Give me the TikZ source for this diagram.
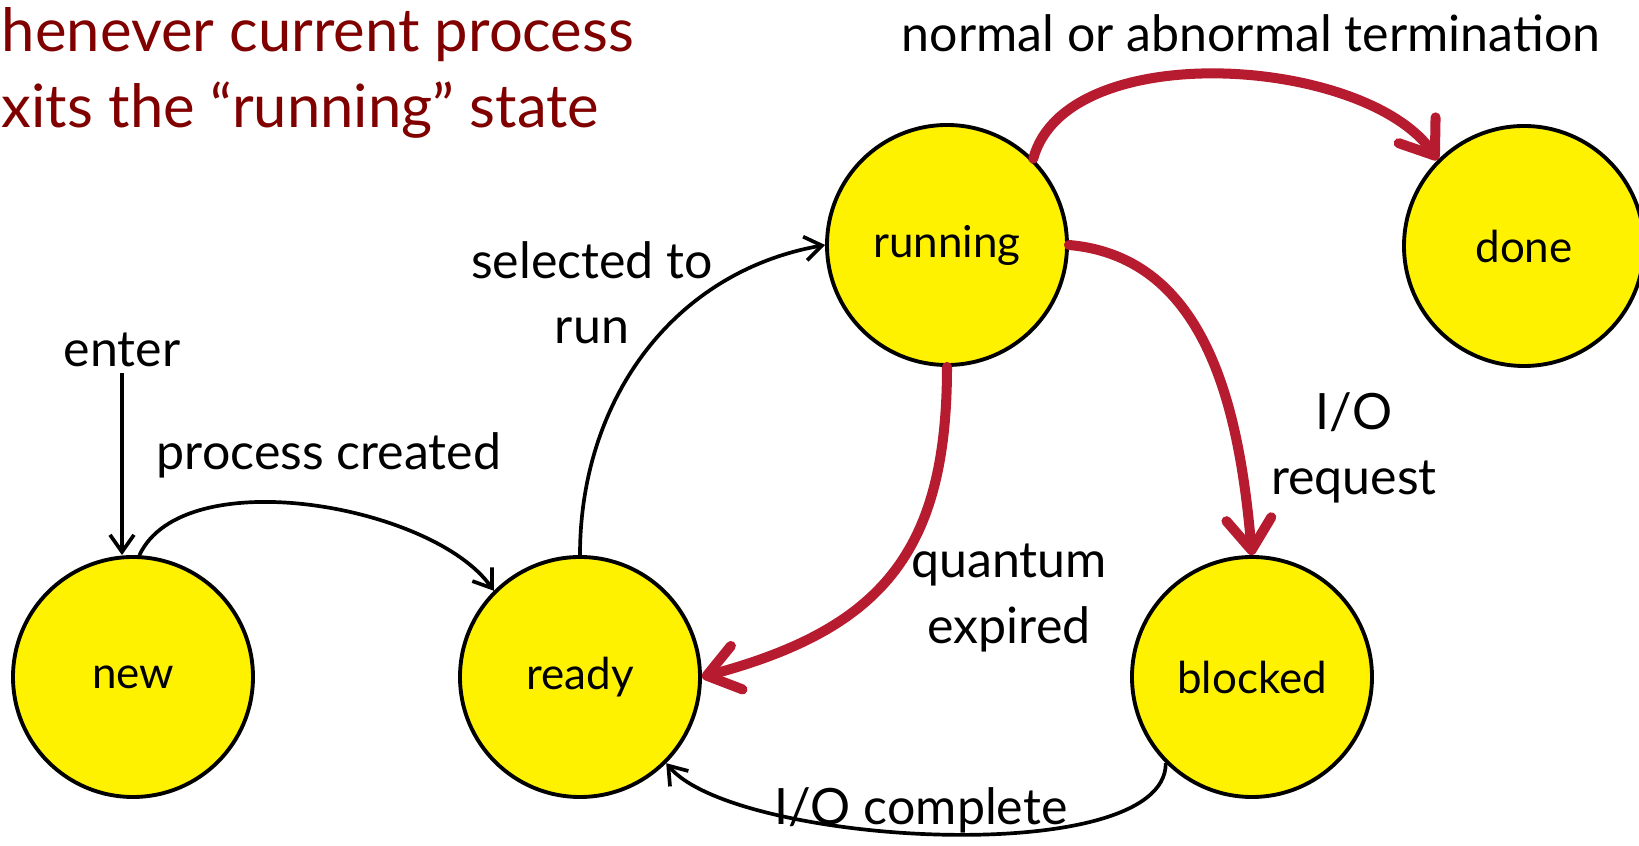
\documentclass[tikz,border=0pt]{standalone}
\usepackage{fontspec}
\setmainfont{Lato}
\usetikzlibrary{arrows.meta}
\definecolor{titlered}{RGB}{128,0,0}
\definecolor{hotred}{RGB}{183,27,48}

\begin{document}
\begin{tikzpicture}[
    state/.style={circle, draw, line width=2.2pt, fill=yellow, minimum size=4.8cm, inner sep=0pt, font=\fontsize{25}{30}\selectfont},
    lbl/.style={align=center, font=\fontsize{28.5}{37}\selectfont},
    heading/.style={anchor=west, inner xsep=0pt, text=titlered, font=\fontsize{34}{40}\selectfont},
    smallarrow/.style={line width=2.1pt, -{Straight Barb[length=0.34cm,width=0.48cm]}},
    bigarrow/.style={line width=5.7pt, hotred, line cap=round, -{Straight Barb[round,length=0.62cm,width=0.9cm]}}
]
    \useasboundingbox (0,0) rectangle (32.78,16.92);

    % Heading (as much as shows at the left edge)
    \node[heading] (head1) at (0.03,16.22) {henever current process};
    \node[heading] (head2) at (0.03,14.72) {xits the ``running'' state};

    % States
    \node[state] (new) at (2.66,3.38) {new};
    \node[state] (ready) at (11.6,3.38) {ready};
    \node[state] (running) at (18.94,12.02) {running};
    \node[state] (done) at (30.48,12.0) {done};
    \node[state] (blocked) at (25.04,3.38) {blocked};

    % Labels
    \node[lbl] (enter) at (2.44,9.92) {enter};
    \node[lbl] (created) at (6.58,7.82) {process created};
    \node[lbl] (selected) at (11.84,11.06) {selected to\\run};
    \node[lbl] (request) at (27.08,7.96) {I/O\\request};
    \node[lbl] (expired) at (20.18,4.96) {quantum\\expired};
    \node[lbl] (complete) at (18.42,0.72) {I/O complete};
    \node[lbl] (termination) at (25.02,16.26) {normal or abnormal termination};

    % Ordinary transitions
    \draw[smallarrow] (enter) -- (enter |- new.north);
    \draw[smallarrow] (new.87) to[out=65, in=125, looseness=0.75] (ready.135);
    \draw[smallarrow] (ready.north) to[out=90, in=190] (running.west);
    \draw[smallarrow] (blocked.225) to[out=-90, in=-50, looseness=0.55] (ready.-45);

    % Leaving the running state
    \draw[bigarrow] (running.45) to[out=75, in=125, looseness=0.8] (done.135);
    \draw[bigarrow] (running.east) to[out=-5, in=95] (blocked.north);
    \draw[bigarrow] (running.south) to[out=-90, in=15, looseness=1.2] (ready.east);
\end{tikzpicture}
\end{document}
